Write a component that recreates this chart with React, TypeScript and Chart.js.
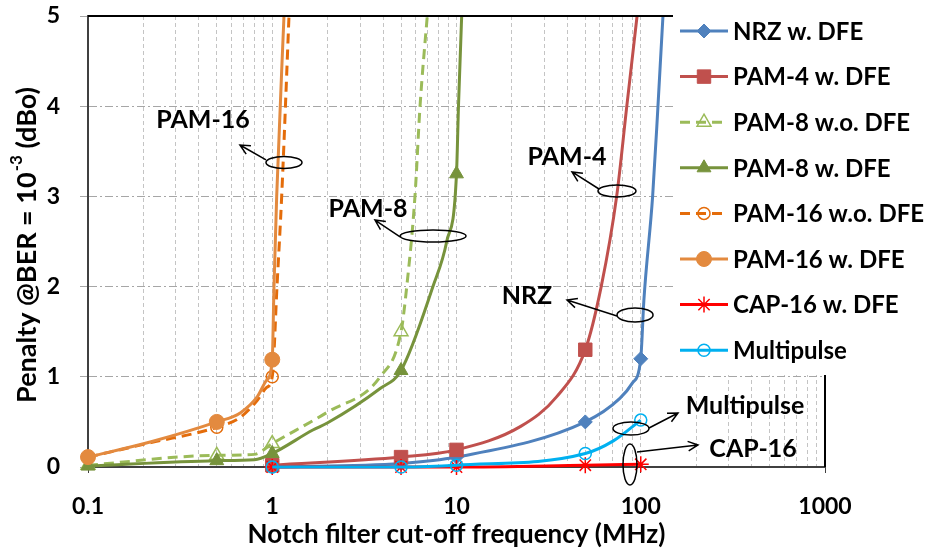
import React, { useEffect, useRef } from 'react';
import { Chart, registerables } from 'chart.js';

Chart.register(...registerables);

const FONT = 'Lato, "Open Sans", "DejaVu Sans", sans-serif';

// ---------- data ----------
const MARKER_X = [0.1, 0.5, 1, 5, 10, 50, 100];
const X_TICKS = [0.1, 1, 10, 100, 1000];
const Y_TICKS = [0, 1, 2, 3, 4, 5];

const nrzX = [1, 5, 10, 50, 77, 90, 100, 104, 116, 124, 132, 150];
const nrzY = [0, 0.04, 0.11, 0.5, 0.76, 0.93, 1.2, 1.85, 3.0, 4.0, 5.0, 6.8];

const pam4X = [1, 5, 10, 22.3, 35, 50, 61, 74, 84, 95.5, 110];
const pam4Y = [0.02, 0.11, 0.19, 0.45, 0.78, 1.3, 2.0, 3.0, 4.0, 5.0, 6.1];

const pam8woX = [0.1, 0.5, 0.8, 1, 2, 3.85, 5, 5.37, 5.95, 6.34, 6.94, 8];
const pam8woY = [0.02, 0.13, 0.14, 0.26, 0.61, 1.0, 1.5, 2.0, 3.0, 4.0, 5.0, 6.5];

const pam8wX = [0.1, 0.5, 0.8, 1, 1.66, 2, 3.85, 5, 7.45, 8.85, 10, 10.25, 10.67, 11.5];
const pam8wY = [0.01, 0.07, 0.08, 0.15, 0.41, 0.49, 0.87, 1.07, 2.0, 2.5, 3.25, 4.0, 5.0, 6.7];

const pam16woX = [0.1, 0.22, 0.5, 0.67, 0.83, 0.93, 1, 1.061, 1.125, 1.233, 1.7];
const pam16woY = [0.11, 0.27, 0.44, 0.55, 0.74, 0.88, 1.0, 2.0, 3.0, 5.0, 12];

const pam16wX = [0.1, 0.22, 0.5, 0.67, 0.83, 0.93, 1, 1.022, 1.057, 1.158, 1.6];
const pam16wY = [0.11, 0.28, 0.5, 0.6, 0.78, 0.96, 1.19, 2.0, 3.0, 5.0, 12];

const cap16X = [1, 5, 10, 50, 100];
const cap16Y = [0.0, 0.0, 0.0, 0.02, 0.03];

const mpX = [1, 5, 10, 50, 71, 100];
const mpY = [0.0, 0.0, 0.02, 0.15, 0.29, 0.52];

// annotation callouts (data coordinates)
const annText = ['PAM-16', 'PAM-8', 'PAM-4', 'NRZ', 'Multipulse', 'CAP-16'];
const annTextX = [0.421, 3.31, 39.8, 24.1, 368, 407];
const annTextY = [3.85, 2.86, 3.44, 1.9, 0.676, 0.2];
const annEllX = [1.158, 7.46, 74.3, 93.1, 88.5, 87.4];
const annEllY = [3.376, 2.561, 3.06, 1.685, 0.427, 0.028];
const annEllRx = [18, 33, 19, 18, 18, 7];
const annEllRy = [6, 6, 6, 7, 6.5, 20.5];
const annFromX = [0.925, 4.94, 59.35, 74.3, 110.9, 95.4];
const annFromY = [3.404, 2.55, 3.082, 1.674, 0.432, 0.166];
const annToX = [0.668, 3.61, 42.36, 39.8, 159.3, 204.5];
const annToY = [3.57, 2.738, 3.271, 1.851, 0.599, 0.244];

type S = {
  label: string; xs: number[]; ys: number[]; color: string;
  style: string; r: number; open: boolean; dash: number[];
};

const series: S[] = [
  { label: 'NRZ w. DFE', xs: nrzX, ys: nrzY, color: '#4F81BD', style: 'rectRot', r: 7, open: false, dash: [] },
  { label: 'PAM-4 w. DFE', xs: pam4X, ys: pam4Y, color: '#C0504D', style: 'rect', r: 9.5, open: false, dash: [] },
  { label: 'PAM-8 w.o. DFE', xs: pam8woX, ys: pam8woY, color: '#9BBB59', style: 'triangle', r: 8, open: true, dash: [10, 6] },
  { label: 'PAM-8 w. DFE', xs: pam8wX, ys: pam8wY, color: '#77933C', style: 'triangle', r: 8, open: false, dash: [] },
  { label: 'PAM-16 w.o. DFE', xs: pam16woX, ys: pam16woY, color: '#E46C0A', style: 'circle', r: 6, open: true, dash: [10, 6] },
  { label: 'PAM-16 w. DFE', xs: pam16wX, ys: pam16wY, color: '#E38A3F', style: 'circle', r: 7.5, open: false, dash: [] },
  { label: 'CAP-16 w. DFE', xs: cap16X, ys: cap16Y, color: '#FF0000', style: 'star', r: 8, open: true, dash: [] },
  { label: 'Multipulse', xs: mpX, ys: mpY, color: '#00B0F0', style: 'circle', r: 6, open: true, dash: [] },
];

const xGrid: number[] = [];
for (let d = 0; d < 4; d++) {
  for (let m = 1; m <= 9; m++) xGrid.push(Number((m * Math.pow(10, d - 1)).toPrecision(3)));
}
xGrid.push(1000);

const isMajor = (v: number) => X_TICKS.some((t) => Math.abs(t - v) < 1e-9);

function drawMarker(ctx: CanvasRenderingContext2D, s: S, x: number, y: number) {
  const r = s.r;
  ctx.save();
  ctx.setLineDash([]);
  ctx.strokeStyle = s.color;
  ctx.fillStyle = s.color;
  ctx.lineWidth = s.open ? 1.5 : 1;
  ctx.beginPath();
  if (s.style === 'circle') {
    ctx.arc(x, y, r, 0, Math.PI * 2);
  } else if (s.style === 'rect') {
    const h = r * Math.SQRT1_2;
    ctx.rect(x - h, y - h, 2 * h, 2 * h);
  } else if (s.style === 'rectRot') {
    ctx.moveTo(x, y - r); ctx.lineTo(x + r, y); ctx.lineTo(x, y + r); ctx.lineTo(x - r, y); ctx.closePath();
  } else if (s.style === 'triangle') {
    ctx.moveTo(x, y - r);
    ctx.lineTo(x + 0.866 * r, y + 0.5 * r);
    ctx.lineTo(x - 0.866 * r, y + 0.5 * r);
    ctx.closePath();
  } else if (s.style === 'star') {
    ctx.moveTo(x - r, y); ctx.lineTo(x + r, y);
    ctx.moveTo(x, y - r); ctx.lineTo(x, y + r);
    const d = r * Math.SQRT1_2;
    ctx.moveTo(x - d, y - d); ctx.lineTo(x + d, y + d);
    ctx.moveTo(x - d, y + d); ctx.lineTo(x + d, y - d);
  }
  if (!s.open) ctx.fill();
  ctx.stroke();
  ctx.restore();
}

const framePlugin = {
  id: 'frameAndNotes',
  afterDatasetsDraw(chart: any) {
    const { ctx, chartArea: a, scales } = chart;
    const xs = scales.x, ys = scales.y;
    ctx.save();
    ctx.setLineDash([]);
    ctx.strokeStyle = '#000';
    ctx.lineWidth = 2;
    ctx.beginPath();
    ctx.moveTo(a.left, a.top); ctx.lineTo(a.right, a.top); ctx.lineTo(a.right, a.bottom);
    ctx.stroke();

    // callouts
    ctx.lineWidth = 1.5;
    ctx.strokeStyle = '#000';
    ctx.fillStyle = '#000';
    ctx.font = `bold 25px ${FONT}`;
    ctx.textAlign = 'center';
    ctx.textBaseline = 'middle';
    for (let i = 0; i < annText.length; i++) {
      const ex = xs.getPixelForValue(annEllX[i]);
      const ey = ys.getPixelForValue(annEllY[i]);
      ctx.beginPath();
      ctx.ellipse(ex, ey, annEllRx[i], annEllRy[i], 0, 0, Math.PI * 2);
      ctx.stroke();
      const fx = xs.getPixelForValue(annFromX[i]);
      const fy = ys.getPixelForValue(annFromY[i]);
      const tx = xs.getPixelForValue(annToX[i]);
      const ty = ys.getPixelForValue(annToY[i]);
      ctx.beginPath();
      ctx.moveTo(fx, fy); ctx.lineTo(tx, ty);
      const ang = Math.atan2(ty - fy, tx - fx);
      const L = 11, sp = 0.45;
      ctx.moveTo(tx - L * Math.cos(ang - sp), ty - L * Math.sin(ang - sp));
      ctx.lineTo(tx, ty);
      ctx.lineTo(tx - L * Math.cos(ang + sp), ty - L * Math.sin(ang + sp));
      ctx.stroke();
      ctx.fillText(annText[i], xs.getPixelForValue(annTextX[i]), ys.getPixelForValue(annTextY[i]));
    }
    ctx.restore();
  },
  afterDraw(chart: any) {
    const { ctx, chartArea: a } = chart;
    ctx.save();
    // y-axis title with superscript
    const cy = (a.top + a.bottom) / 2 + 4;
    ctx.translate(27, cy);
    ctx.rotate(-Math.PI / 2);
    ctx.fillStyle = '#000';
    ctx.textBaseline = 'middle';
    ctx.textAlign = 'left';
    const big = `bold 27px ${FONT}`;
    const small = `bold 17px ${FONT}`;
    const p1 = 'Penalty @BER = 10';
    const p2 = '-3';
    const p3 = ' (dBo)';
    ctx.font = big;
    const w1 = ctx.measureText(p1).width;
    const w3 = ctx.measureText(p3).width;
    ctx.font = small;
    const w2 = ctx.measureText(p2).width;
    const x0 = -(w1 + w2 + w3) / 2;
    ctx.font = big;
    ctx.fillText(p1, x0, 0);
    ctx.font = small;
    ctx.fillText(p2, x0 + w1 + 1, -10);
    ctx.font = big;
    ctx.fillText(p3, x0 + w1 + w2 + 1, 0);
    ctx.restore();

    // legend
    ctx.save();
    ctx.fillStyle = '#fff';
    ctx.fillRect(673, 0, 934 - 673, 375);
    ctx.font = `bold 24px ${FONT}`;
    ctx.textBaseline = 'middle';
    ctx.textAlign = 'left';
    series.forEach((s, i) => {
      const y = 31 + i * 45.6;
      ctx.save();
      ctx.strokeStyle = s.color;
      ctx.lineWidth = 3;
      ctx.setLineDash(s.dash);
      ctx.beginPath();
      ctx.moveTo(680, y); ctx.lineTo(728, y);
      ctx.stroke();
      ctx.restore();
      drawMarker(ctx, s, 704, y);
      ctx.fillStyle = '#000';
      ctx.fillText(s.label, 733, y + 1);
    });
    ctx.restore();
  },
};

export default function App() {
  const ref = useRef<HTMLCanvasElement>(null);
  useEffect(() => {
    document.body.style.margin = '0';
    const tickFont = { family: FONT, size: 23, weight: 'bold' as const };
    const chart = new Chart(ref.current as HTMLCanvasElement, {
      type: 'line',
      data: {
        datasets: series.map((s, i) => ({
          label: s.label,
          data: s.xs.map((x, j) => ({ x, y: s.ys[j] })),
          borderColor: s.color,
          backgroundColor: s.color,
          borderWidth: 3,
          borderDash: s.dash,
          pointStyle: s.style as any,
          pointRadius: (c: any) => {
            const p = c.raw;
            return p && MARKER_X.includes(p.x) && p.y <= 5 ? s.r : 0;
          },
          pointHoverRadius: 0,
          pointBackgroundColor: s.open ? 'rgba(0,0,0,0)' : s.color,
          pointBorderColor: s.color,
          pointBorderWidth: s.open ? 1.5 : 1,
          cubicInterpolationMode: 'monotone' as const,
          clip: { left: 12, right: 12, top: 0, bottom: 12 } as any,
          order: -i,
          fill: false,
        })),
      },
      options: {
        responsive: false,
        animation: false,
        devicePixelRatio: 1,
        layout: { padding: { left: 0, right: 109, top: 16, bottom: 0 } },
        plugins: { legend: { display: false }, tooltip: { enabled: false } },
        events: [],
        scales: {
          x: {
            type: 'logarithmic',
            min: 0.1,
            max: 1000,
            afterBuildTicks: (sc: any) => {
              sc.ticks = xGrid.map((v) => ({ value: v, major: isMajor(v) }));
            },
            afterFit: (sc: any) => { sc.height = 83; sc.paddingLeft = 0; sc.paddingRight = 0; },
            ticks: {
              autoSkip: false,
              maxRotation: 0,
              minRotation: 0,
              padding: 20,
              color: '#000',
              font: tickFont,
              callback: (v: any) => (isMajor(Number(v)) ? String(Number(v)) : ''),
            },
            grid: {
              color: '#c4c4c4',
              lineWidth: 1,
              drawTicks: true,
              tickLength: 6,
              tickColor: (c: any) => (c.tick && isMajor(c.tick.value) ? '#404040' : 'rgba(0,0,0,0)'),
            },
            border: { display: true, color: '#404040', width: 2, dash: [4, 3] },
            title: {
              display: true,
              text: 'Notch filter cut-off frequency (MHz)',
              color: '#000',
              font: { family: FONT, size: 26, weight: 'bold' },
              padding: { top: 0, bottom: 0 },
            },
          },
          y: {
            type: 'linear',
            min: 0,
            max: 5,
            afterBuildTicks: (sc: any) => {
              sc.ticks = Y_TICKS.map((v) => ({ value: v }));
            },
            afterFit: (sc: any) => { sc.width = 88; sc.paddingTop = 0; sc.paddingBottom = 0; },
            ticks: { padding: 20, color: '#000', font: tickFont },
            grid: { color: '#a6a6a6', lineWidth: 1, tickLength: 8, tickColor: '#a6a6a6' },
            border: { display: true, color: '#404040', width: 2, dash: [8, 3, 2, 3] },
          },
        },
      } as any,
      plugins: [framePlugin],
    });
    return () => chart.destroy();
  }, []);
  return (
    <div style={{ width: 934, height: 550 }}>
      <canvas ref={ref} width={934} height={550} />
    </div>
  );
}
